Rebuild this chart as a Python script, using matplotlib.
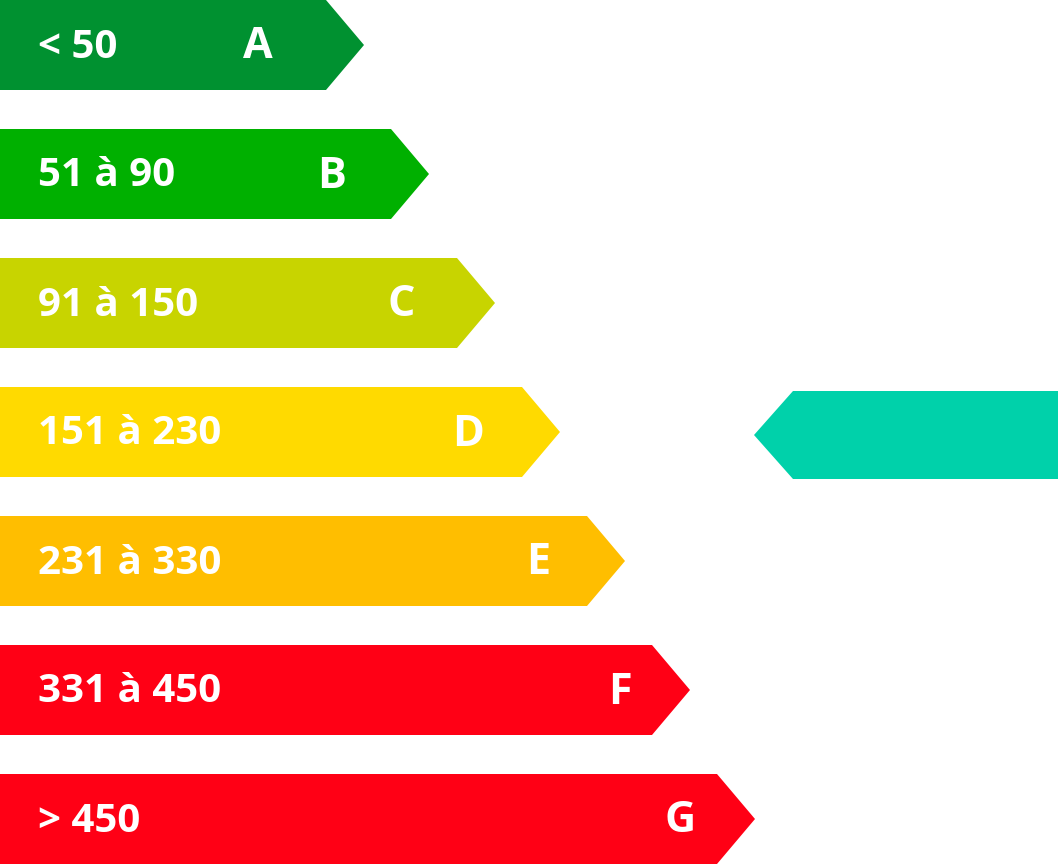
import matplotlib
matplotlib.use("Agg")
import matplotlib.pyplot as plt
from matplotlib.patches import Polygon

classes = ["A", "B", "C", "D", "E", "F", "G"]
ranges = ["< 50", "51 à 90", "91 à 150", "151 à 230", "231 à 330", "331 à 450", "> 450"]
colors = ["#009130", "#00B000", "#C8D400", "#FFDA00", "#FFBE00", "#FF0015", "#FF0015"]
current = "D"

body_end = [326, 391, 457, 522, 587, 652, 717]
letter_x = [258, 332, 401, 468, 538, 620, 680]
tip = 38
row_top = [0, 129, 258, 387, 516, 645, 774]
row_h = 90

fig = plt.figure(figsize=(10.58, 8.68), dpi=100)
ax = fig.add_axes([0, 0, 1, 1])
ax.set_xlim(0, 1058)
ax.set_ylim(868, 0)
ax.axis("off")

for c, r, col, be, lx, y in zip(classes, ranges, colors, body_end, letter_x, row_top):
    pts = [(0, y), (be, y), (be + tip, y + row_h / 2), (be, y + row_h), (0, y + row_h)]
    ax.add_patch(Polygon(pts, closedpolygon=True, color=col, lw=0) if False else Polygon(pts, closed=True, color=col, lw=0))
    ax.text(38, y + row_h / 2 + 2, r, color="white", fontsize=29, fontweight="bold",
            family="Open Sans", va="center", ha="left")
    ax.text(lx, y + row_h / 2 + 2, c, color="white", fontsize=31, fontweight="bold",
            family="Open Sans", va="center", ha="center")

i = classes.index(current)
y = row_top[i] + 4
pts = [(754, y + 44), (793, y), (1058, y), (1058, y + 88), (793, y + 88)]
ax.add_patch(Polygon(pts, closed=True, color="#00D1AA", lw=0))

fig.savefig("out.png", dpi=100)
